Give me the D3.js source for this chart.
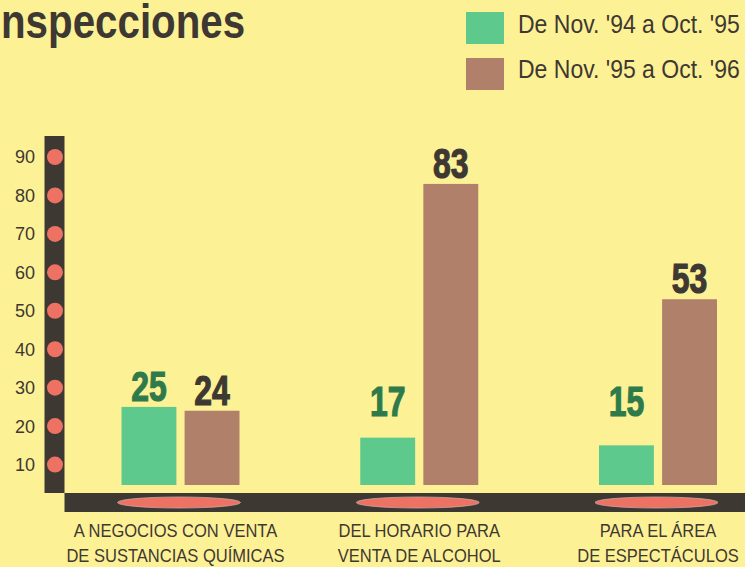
<!DOCTYPE html>
<html>
<head>
<meta charset="utf-8">
<script src="https://cdn.jsdelivr.net/npm/d3@7"></script>
<style>
  html, body { margin: 0; padding: 0; background: #fdf196; }
  svg { display: block; }
</style>
</head>
<body>
<svg id="chart" width="745" height="567"></svg>
<script>
// ---- data ----
const titleText = "nspecciones";
const categories = [
  ["A NEGOCIOS CON VENTA", "DE SUSTANCIAS QUÍMICAS"],
  ["DEL HORARIO PARA", "VENTA DE ALCOHOL"],
  ["PARA EL ÁREA", "DE ESPECTÁCULOS"]
];
const seriesNames = ["De Nov. '94 a Oct. '95", "De Nov. '95 a Oct. '96"];
const series1 = [25, 17, 15];
const series2 = [24, 83, 53];
const tickValues = [10, 20, 30, 40, 50, 60, 70, 80, 90];

// ---- styles ----
const bg = "#fdf196";
const dark = "#3e3832";
const green = "#5ec98c";
const brown = "#b0806a";
const greenText = "#2f7a4b";
const salmon = "#ee7263";
const sans = "'Liberation Sans', Arial, Helvetica, sans-serif";

const svg = d3.select("#chart");
svg.append("rect").attr("width", 745).attr("height", 567).attr("fill", bg);

// condensed text helper (horizontal squeeze of Liberation Sans)
function addText(parent, x, y, str, o) {
  return parent.append("text")
    .attr("transform", `translate(${x},${y}) scale(${o.sx},1)`)
    .attr("text-anchor", o.anchor || "start")
    .attr("font-family", sans)
    .attr("font-weight", o.weight || "normal")
    .attr("font-size", o.size)
    .attr("fill", o.fill || dark)
    .attr("stroke", o.stroke || "none")
    .attr("stroke-width", o.strokeWidth || 0)
    .text(str);
}

const catKeys = categories.map((c, i) => "c" + i);
const x = d3.scalePoint().domain(catKeys).range([180.5, 658]);
const xs = d3.scaleBand().domain([0, 1]).range([-59, 59]).paddingInner(0.13);
const y = d3.scaleLinear().domain([0, 90]).range([503, 157]);
const barBottom = y(0) - 18;

// title
addText(svg, 1, 38, titleText, { size: 48, weight: "bold", sx: 0.84 });

// legend
const legendColors = [green, brown];
seriesNames.forEach((s, i) => {
  svg.append("rect").attr("x", 466).attr("y", 12 + i * 46)
    .attr("width", 38).attr("height", 32).attr("fill", legendColors[i]);
  addText(svg, 518, 33 + i * 45, s, { size: 25, sx: 0.92 });
});

// vertical axis bar
svg.append("rect").attr("x", 44.5).attr("y", 136).attr("width", 20)
  .attr("height", 493 - 136).attr("fill", dark);

// horizontal base bar
svg.append("rect").attr("x", 64.5).attr("y", 493).attr("width", 745 - 64.5)
  .attr("height", 19).attr("fill", dark);

// tick dots and labels
const ticks = svg.append("g");
ticks.selectAll("circle").data(tickValues).join("circle")
  .attr("cx", 55).attr("cy", d => y(d)).attr("r", 8).attr("fill", salmon);
ticks.selectAll("text").data(tickValues).join("text")
  .attr("x", 35).attr("y", d => y(d)).attr("dy", "0.36em")
  .attr("text-anchor", "end")
  .attr("font-family", sans).attr("font-size", 18).attr("fill", dark)
  .text(d => d);

// ellipses on base bar
svg.append("g").selectAll("ellipse").data(catKeys).join("ellipse")
  .attr("cx", d => x(d) - 1.5).attr("cy", 502.5)
  .attr("rx", 61.5).attr("ry", 5.5)
  .attr("fill", salmon).attr("stroke", "#c9a79a").attr("stroke-width", 0.8);

// bars
const groups = svg.append("g").selectAll("g").data(catKeys).join("g")
  .attr("transform", d => `translate(${x(d)},0)`);
groups.each(function(k, i) {
  const g = d3.select(this);
  const data = [
    { s: 0, v: series1[i], fill: green, tc: greenText },
    { s: 1, v: series2[i], fill: brown, tc: dark }
  ];
  g.selectAll("rect").data(data).join("rect")
    .attr("x", d => xs(d.s)).attr("y", d => y(d.v))
    .attr("width", xs.bandwidth())
    .attr("height", d => barBottom - y(d.v))
    .attr("fill", d => d.fill);
  data.forEach(d => {
    addText(g, xs(d.s) + xs.bandwidth() / 2, Math.min(y(d.v) - 6, barBottom - 69), d.v,
      { size: 42, weight: "bold", sx: 0.76, anchor: "middle", fill: d.tc,
        stroke: d.tc, strokeWidth: 1.2 });
  });
});

// category labels
categories.forEach((lines, i) => {
  const cx = x(catKeys[i]) - (i === 0 ? 5 : 0);
  lines.forEach((line, j) => {
    addText(svg, cx, 537 + j * 25, line, { size: 19, sx: 0.87, anchor: "middle" });
  });
});
</script>
</body>
</html>
